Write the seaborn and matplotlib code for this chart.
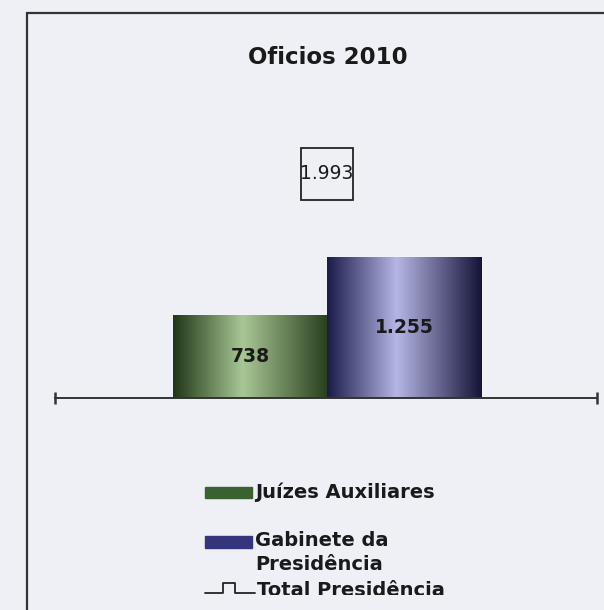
import numpy as np
import matplotlib
matplotlib.use("Agg")
import matplotlib.pyplot as plt
import seaborn as sns
from matplotlib.colors import LinearSegmentedColormap
from matplotlib.patches import Rectangle
from matplotlib.lines import Line2D
from matplotlib.transforms import Bbox, TransformedBbox

categories = ["Juízes Auxiliares", "Gabinete da\nPresidência"]
values = [738, 1255]
total_label = "Total Presidência"
total = 1993
title = "Oficios 2010"

bar_mid = ["#5f8a4c", "#4a4a92"]
bar_grad = [["#1f3716", "#a9c796", "#283f1d"],
            ["#1b1b4a", "#b6b6e6", "#141438"]]
legend_cols = ["#3a6230", "#35357e"]
bg = "#eef0f6"

sns.set_style("white")
plt.rcParams['font.family'] = ['DejaVu Sans']

W, H = 604, 610
fig = plt.figure(figsize=(6.04, 6.10), dpi=100, facecolor=bg)

def fx(px):
    return px / W

def fy(py):
    return 1 - py / H

# axes: baseline at y=398px, spans x 55..597px
ax = fig.add_axes([fx(55), fy(398), fx(597) - fx(55), fy(100) - fy(398)])
ax.set_facecolor(bg)

sns.barplot(x=categories, y=values, hue=categories, palette=bar_mid,
            width=1, legend=False, ax=ax, saturation=1)

# cylinder-like horizontal gradient on each bar
grad = np.linspace(0, 1, 256).reshape(1, -1)
for patch, cols in zip(list(ax.patches), bar_grad):
    x0, y0 = patch.get_x(), patch.get_y()
    w, h = patch.get_width(), patch.get_height()
    cmap = LinearSegmentedColormap.from_list("g", [(0, cols[0]), (0.45, cols[1]), (1, cols[2])])
    im = ax.imshow(grad, extent=[x0, x0 + w, y0, y0 + h], aspect='auto',
                   cmap=cmap, zorder=patch.get_zorder() + 0.1)
    im.set_clip_path(patch)

def fmt(v):
    return f"{v:,}".replace(",", ".")

for i, v in enumerate(values):
    ax.text(i, v / 2, fmt(v), ha='center', va='center', fontsize=13.5,
            fontweight='bold', color='#1a1a1a', zorder=5)

# total marker (open square) with its value inside
ax.plot([0.5], [total], marker='s', ms=38, mfc='none', mec='#222222', mew=1.3,
        linestyle='none', zorder=5)
ax.text(0.5, total, fmt(total), ha='center', va='center', fontsize=13.5,
        color='#1a1a1a', zorder=6)

xl = (-1.266, 2.253)
ax.set_xlim(xl)
ax.set_ylim(0, 298 / 0.1125)
for s in ['top', 'left', 'right']:
    ax.spines[s].set_visible(False)
ax.spines['bottom'].set_color('#333333')
ax.spines['bottom'].set_linewidth(1.4)
ax.set_xticks(list(xl))
ax.set_yticks([])
ax.tick_params(axis='x', bottom=True, direction='inout', length=9, width=1.8,
               color='#333333', labelbottom=False)
ax.set_xlabel('')
ax.set_ylabel('')

# outer frame
fig.add_artist(Rectangle((fx(27), -0.1), 1.0, fy(13) + 0.1, fill=False,
                         lw=1.6, ec='#333333', transform=fig.transFigure))

fig.text(fx(328), fy(57), title, ha='center', va='center', fontsize=16.5,
         fontweight='bold', color='#1a1a1a')

# legend
fig.add_artist(Rectangle((fx(205), fy(498)), fx(47), 11 / H, color=legend_cols[0],
                         transform=fig.transFigure))
fig.add_artist(Rectangle((fx(205), fy(548)), fx(47), 12 / H, color=legend_cols[1],
                         transform=fig.transFigure))
fig.text(fx(255), fy(492), categories[0], ha='left', va='center', fontsize=14,
         fontweight='bold', color='#1a1a1a')
fig.text(fx(255), fy(531), categories[1], ha='left', va='top', fontsize=14,
         fontweight='bold', color='#1a1a1a', linespacing=1.33)

lx = [205, 223, 223, 235, 235, 255]
ly = [593, 593, 583, 583, 593, 593]
fig.add_artist(Line2D([fx(p) for p in lx], [fy(p) for p in ly], color='#222222',
                      lw=1.3, transform=fig.transFigure))
t = fig.text(fx(257), fy(596.5), total_label, ha='left', va='baseline', fontsize=14,
             fontweight='bold', color='#1a1a1a')
t.set_clip_box(TransformedBbox(Bbox.from_extents(0, fy(595), 1, 1), fig.transFigure))
t.set_clip_on(True)

fig.savefig("out.png", dpi=100, facecolor=bg)
